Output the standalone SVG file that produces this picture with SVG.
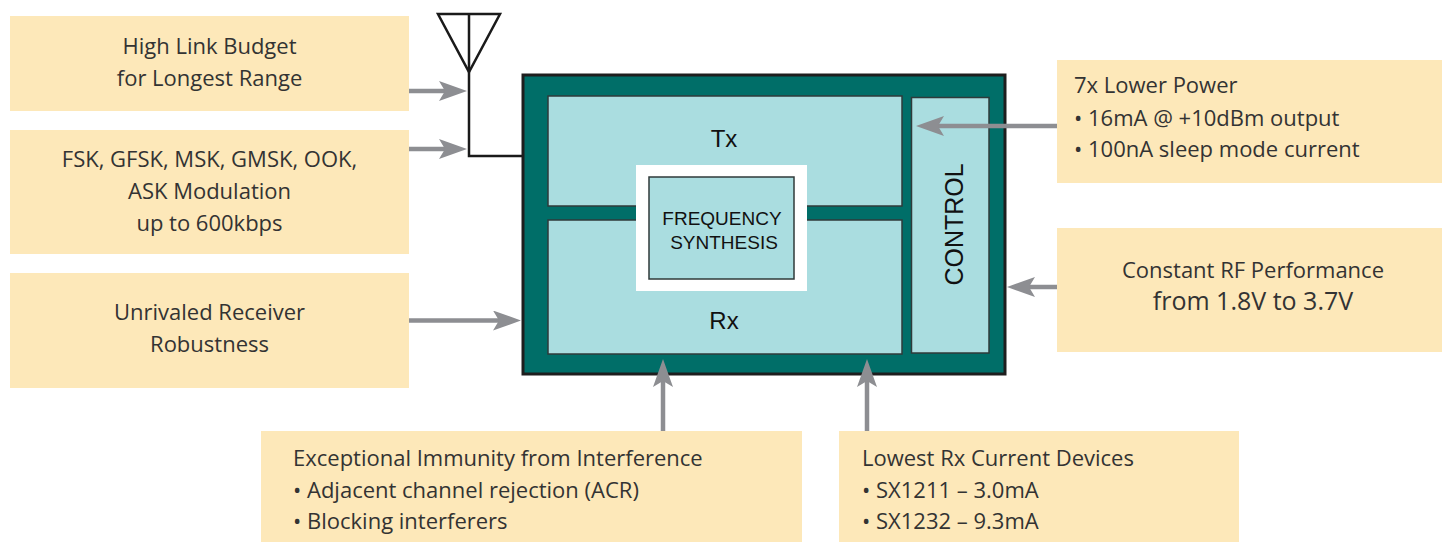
<svg xmlns="http://www.w3.org/2000/svg" width="1442" height="542" viewBox="0 0 1442 542">
<style>
.box{fill:#fde8b9}
.t{font-family:"Open Sans","Noto Sans",sans-serif;font-size:22px;font-weight:400;fill:#333333}
.c{text-anchor:middle}
.blk{fill:#aadde0;stroke:#2f3a3a;stroke-width:1.5}
.bt{font-family:"Liberation Sans",Arial,sans-serif;fill:#111;text-anchor:middle}
.arr{stroke:#8d8e92;stroke-width:4.5;fill:none;marker-end:url(#ah)}
.ant{stroke:#1a1a1a;stroke-width:2.5;fill:none}
</style>
<defs>
<marker id="ah" markerUnits="userSpaceOnUse" viewBox="0 0 28 20" refX="18" refY="10" markerWidth="28" markerHeight="20" orient="auto">
<path d="M0,0 L28,10 L0,20 L6,10 Z" fill="#8d8e92"/>
</marker>
</defs>
<rect width="1442" height="542" fill="#ffffff"/>

<g id="feature-link-budget">
<rect class="box" x="10" y="16" width="399" height="95"/>
<text class="t c" x="209.5" y="54">High Link Budget</text>
<text class="t c" x="209.5" y="86">for Longest Range</text>
</g>
<g id="feature-modulation">
<rect class="box" x="10" y="130" width="399" height="124"/>
<text class="t c" x="209.5" y="167">FSK, GFSK, MSK, GMSK, OOK,</text>
<text class="t c" x="209.5" y="199">ASK Modulation</text>
<text class="t c" x="209.5" y="231">up to 600kbps</text>
</g>
<g id="feature-robustness">
<rect class="box" x="10" y="273" width="399" height="115"/>
<text class="t c" x="209.5" y="320">Unrivaled Receiver</text>
<text class="t c" x="209.5" y="352">Robustness</text>
</g>
<g id="feature-power">
<rect class="box" x="1057" y="60" width="385" height="123"/>
<text class="t" x="1074" y="93">7x Lower Power</text>
<text class="t" x="1074" y="125.5">• 16mA @ +10dBm output</text>
<text class="t" x="1074" y="157">• 100nA sleep mode current</text>
</g>
<g id="feature-rf-performance">
<rect class="box" x="1057" y="228" width="385" height="124"/>
<text class="t c" x="1253" y="278">Constant RF Performance</text>
<text class="t c" x="1253" y="310" style="font-size:25px">from 1.8V to 3.7V</text>
</g>
<g id="feature-immunity">
<rect class="box" x="261" y="431" width="541" height="111"/>
<text class="t" x="293" y="466">Exceptional Immunity from Interference</text>
<text class="t" x="293" y="497.5">• Adjacent channel rejection (ACR)</text>
<text class="t" x="293" y="529">• Blocking interferers</text>
</g>
<g id="feature-rx-current">
<rect class="box" x="839" y="431" width="400" height="111"/>
<text class="t" x="862" y="466">Lowest Rx Current Devices</text>
<text class="t" x="862" y="497.5">• SX1211 – 3.0mA</text>
<text class="t" x="862" y="529">• SX1232 – 9.3mA</text>
</g>

<g id="antenna">
<path class="ant" d="M438,14 L500,14 L469,72 Z"/>
<path class="ant" d="M469,14 L469,156 L523,156"/>
</g>

<g id="transceiver">
<rect x="523" y="75" width="482" height="299" fill="#006e68" stroke="#1e1e1e" stroke-width="3"/>
<g id="tx">
<rect class="blk" x="548" y="96" width="354" height="110"/>
<text class="bt" x="724" y="147" font-size="24">Tx</text>
</g>
<g id="rx">
<rect class="blk" x="548" y="220" width="354" height="134"/>
<text class="bt" x="724" y="328.5" font-size="24">Rx</text>
</g>
<g id="control">
<rect class="blk" x="911.5" y="97.5" width="77.5" height="255.5"/>
<text class="bt" transform="translate(962.5,224.5) rotate(-90)" x="0" y="0" font-size="25">CONTROL</text>
</g>
<g id="frequency-synthesis">
<rect x="636" y="165" width="171" height="126" fill="#ffffff"/>
<rect class="blk" x="649" y="177" width="145" height="102"/>
<text class="bt" x="722" y="224.5" font-size="19">FREQUENCY</text>
<text class="bt" x="724" y="248.5" font-size="19">SYNTHESIS</text>
</g>
</g>

<g id="connectors">
<line class="arr" x1="409" y1="91" x2="457" y2="91"/>
<line class="arr" x1="409" y1="149" x2="457" y2="149"/>
<line class="arr" x1="409" y1="320.5" x2="511" y2="320.5"/>
<line class="arr" x1="1057" y1="126" x2="926" y2="126"/>
<line class="arr" x1="1057" y1="287" x2="1017" y2="287"/>
<line class="arr" x1="663" y1="431" x2="663" y2="369"/>
<line class="arr" x1="867" y1="431" x2="867" y2="369"/>
</g>
</svg>
